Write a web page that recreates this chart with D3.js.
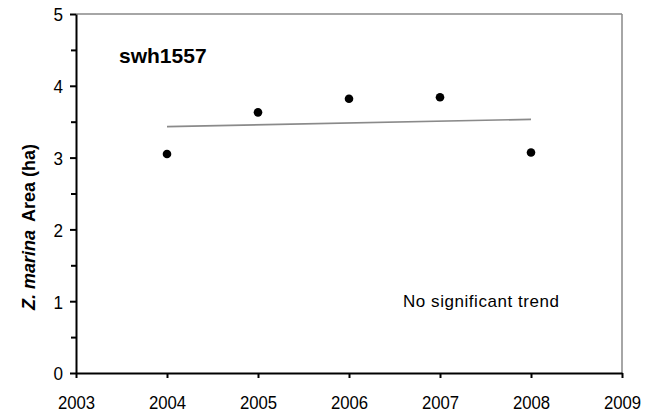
<!DOCTYPE html>
<html>
<head>
<meta charset="utf-8">
<script src="https://cdn.jsdelivr.net/npm/d3@7/dist/d3.min.js"></script>
<style>
  html, body { margin: 0; padding: 0; background: #fff; }
  svg { display: block; font-family: "Liberation Sans", Arial, sans-serif; }
</style>
</head>
<body>
<svg id="chart" width="664" height="417"></svg>
<script>
// Survey years and measured eelgrass area (ha)
const years = [2004, 2005, 2006, 2007, 2008];
const areaHa = [3.05, 3.63, 3.82, 3.84, 3.07];
const xTicks = [2003, 2004, 2005, 2006, 2007, 2008, 2009];
const yTicks = [0, 1, 2, 3, 4, 5];
const yMinorTicks = [0.5, 1.5, 2.5, 3.5, 4.5];
const siteLabel = "swh1557";
const noteText = "No significant trend";

const svg = d3.select("#chart");
const plotLeft = 76, plotRight = 622, plotTop = 14, plotBottom = 373;

const x = d3.scaleLinear().domain([2003, 2009]).range([plotLeft, plotRight]);
const y = d3.scaleLinear().domain([0, 5]).range([plotBottom, plotTop]);

// Grey frame on top and right
svg.append("line").attr("x1", plotLeft).attr("x2", plotRight).attr("y1", plotTop).attr("y2", plotTop)
  .attr("stroke", "#888").attr("stroke-width", 1.5);
svg.append("line").attr("x1", plotRight).attr("x2", plotRight).attr("y1", plotTop).attr("y2", plotBottom)
  .attr("stroke", "#888").attr("stroke-width", 1.5);

// Least-squares trend line over the surveyed years
const n = years.length;
const mx = d3.mean(years), my = d3.mean(areaHa);
const slope = d3.sum(years, (d, i) => (d - mx) * (areaHa[i] - my)) / d3.sum(years, d => (d - mx) ** 2);
const fit = t => my + slope * (t - mx);
const x0 = years[0], x1 = years[n - 1];
svg.append("line")
  .attr("x1", x(x0)).attr("y1", y(fit(x0)))
  .attr("x2", x(x1)).attr("y2", y(fit(x1)))
  .attr("stroke", "#8a8a8a").attr("stroke-width", 1.6);

// Minor y ticks
svg.append("g").attr("transform", `translate(${plotLeft},0)`)
  .call(d3.axisLeft(y).tickValues(yMinorTicks).tickSize(5).tickFormat(""))
  .call(g => g.select(".domain").remove())
  .call(g => g.selectAll("line").attr("stroke", "#000").attr("stroke-width", 2));

// Y axis
const yAxis = svg.append("g").attr("transform", `translate(${plotLeft},0)`)
  .call(d3.axisLeft(y).tickValues(yTicks).tickSize(6).tickSizeOuter(0).tickPadding(0).tickFormat(d3.format("d")));
yAxis.select(".domain").attr("stroke", "#000").attr("stroke-width", 2);
yAxis.selectAll("line").attr("stroke", "#000").attr("stroke-width", 2);
yAxis.selectAll("text")
  .attr("font-size", 19).attr("fill", "#000")
  .attr("x", null).attr("dy", "0.36em")
  .attr("transform", "translate(-13,0) scale(0.9,1)");

// X axis
const xAxis = svg.append("g").attr("transform", `translate(0,${plotBottom})`)
  .call(d3.axisBottom(x).tickValues(xTicks).tickSize(5).tickSizeOuter(0).tickPadding(0).tickFormat(d3.format("d")));
xAxis.select(".domain").attr("stroke", "#000").attr("stroke-width", 2);
xAxis.selectAll("line").attr("stroke", "#000").attr("stroke-width", 2);
xAxis.selectAll("text")
  .attr("font-size", 19).attr("fill", "#000")
  .attr("y", null).attr("dy", null)
  .attr("transform", "translate(0,36) scale(0.88,1)");

// Survey points
svg.append("g").selectAll("circle")
  .data(years)
  .join("circle")
  .attr("cx", d => x(d))
  .attr("cy", (d, i) => y(areaHa[i]))
  .attr("r", 4.3)
  .attr("fill", "#000");

// Site label
svg.append("text")
  .attr("x", 119).attr("y", 63)
  .attr("font-size", 21).attr("font-weight", "bold")
  .attr("fill", "#000")
  .text(siteLabel);

// Trend note
svg.append("text")
  .attr("x", 403).attr("y", 307)
  .attr("font-size", 17)
  .attr("textLength", 156).attr("lengthAdjust", "spacing")
  .attr("fill", "#000")
  .text(noteText);

// Y axis title
const yTitle = svg.append("text")
  .attr("transform", `translate(35,227) rotate(-90)`)
  .attr("text-anchor", "middle")
  .attr("font-size", 18).attr("font-weight", "bold")
  .attr("fill", "#000");
yTitle.append("tspan").attr("font-style", "italic").text("Z. marina");
yTitle.append("tspan").attr("dx", 8).text("Area (ha)");
</script>
</body>
</html>
